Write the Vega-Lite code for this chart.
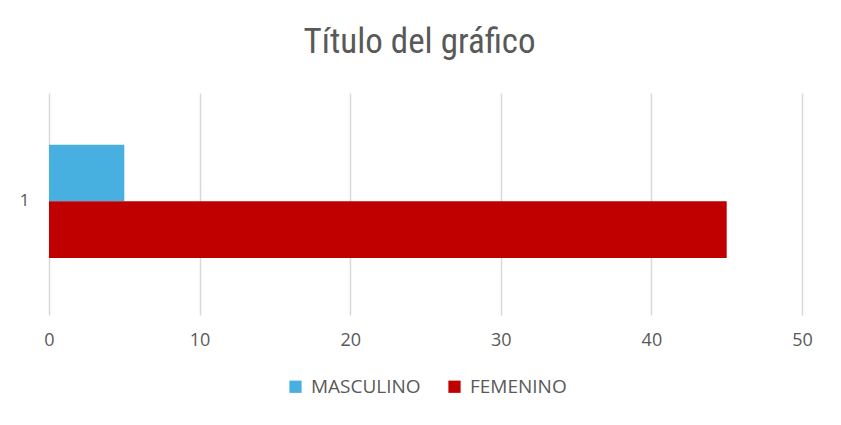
{
  "$schema": "https://vega.github.io/schema/vega-lite/v6.json",
  "autosize": "none",
  "width": 753,
  "height": 222,
  "padding": {"left": 49, "top": 93, "right": 39, "bottom": 110},
  "background": "white",
  "title": {
    "text": "Título del gráfico",
    "fontSize": 35,
    "font": "Liberation Sans Narrow, Roboto Condensed, Open Sans",
    "fontWeight": "normal",
    "color": "#595959",
    "offset": 33,
    "anchor": "middle",
    "dx": -6
  },
  "data": {
    "values": [
      {"categoria": "1", "serie": "MASCULINO", "valor": 5},
      {"categoria": "1", "serie": "FEMENINO", "valor": 45}
    ]
  },
  "mark": {"type": "bar"},
  "encoding": {
    "y": {
      "field": "categoria",
      "type": "nominal",
      "scale": {"paddingInner": 0, "paddingOuter": 0.48, "align": 0.475},
      "axis": {
        "title": null,
        "ticks": false,
        "domain": false,
        "labelPadding": 20,
        "labelFontSize": 17,
        "labelColor": "#595959",
        "labelFont": "Open Sans",
        "labelFontWeight": "normal"
      }
    },
    "yOffset": {
      "field": "serie",
      "type": "nominal",
      "sort": ["MASCULINO", "FEMENINO"],
      "scale": {"paddingInner": 0, "paddingOuter": 0}
    },
    "x": {
      "field": "valor",
      "type": "quantitative",
      "scale": {"domain": [0, 50], "nice": false},
      "axis": {
        "title": null,
        "values": [0, 10, 20, 30, 40, 50],
        "ticks": false,
        "domain": false,
        "grid": true,
        "gridColor": "#D9D9D9",
        "gridWidth": 1.5,
        "labelFlush": false,
        "labelPadding": 16,
        "labelFontSize": 18,
        "labelColor": "#595959",
        "labelFont": "Liberation Sans Narrow, Open Sans",
        "labelFontWeight": "normal"
      }
    },
    "color": {
      "field": "serie",
      "type": "nominal",
      "sort": ["MASCULINO", "FEMENINO"],
      "scale": {"domain": ["MASCULINO", "FEMENINO"], "range": ["#47B0E0", "#C00000"]},
      "legend": {
        "title": null,
        "orient": "none",
        "direction": "horizontal",
        "legendX": 237,
        "legendY": 284,
        "symbolType": "square",
        "symbolSize": 150,
        "symbolStrokeWidth": 0,
        "labelFontSize": 19,
        "labelColor": "#595959",
        "labelFont": "Open Sans",
        "columnPadding": 24,
        "labelOffset": 6
      }
    }
  },
  "config": {
    "view": {"stroke": null},
    "axis": {"labelFontWeight": "normal"}
  }
}
